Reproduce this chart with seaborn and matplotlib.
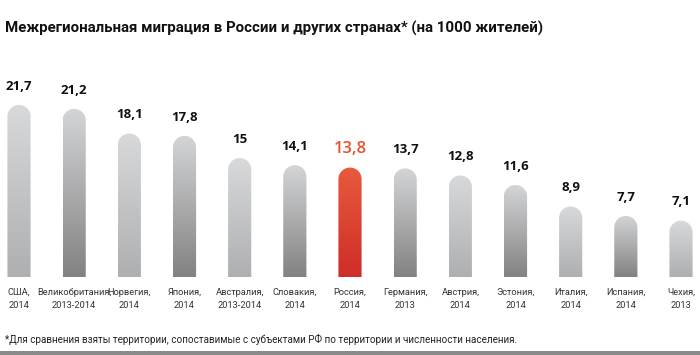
import numpy as np
import pandas as pd
import seaborn as sns
import matplotlib.pyplot as plt
from matplotlib.path import Path
from matplotlib.patches import PathPatch

# Data
countries = ['США', 'Великобритания', 'Норвегия', 'Япония', 'Австралия', 'Словакия',
             'Россия', 'Германия', 'Австрия', 'Эстония', 'Италия', 'Испания', 'Чехия']
years = ['2014', '2013-2014', '2014', '2014', '2013-2014', '2014',
         '2014', '2013', '2014', '2014', '2014', '2014', '2013']
values = [21.7, 21.2, 18.1, 17.8, 15.0, 14.1, 13.8, 13.7, 12.8, 11.6, 8.9, 7.7, 7.1]
value_labels = ['21,7', '21,2', '18,1', '17,8', '15', '14,1', '13,8', '13,7',
                '12,8', '11,6', '8,9', '7,7', '7,1']
highlight = 'Россия'

df = pd.DataFrame({'country': countries, 'value': values})

sns.set_style('white')
plt.rcParams['font.family'] = ['Open Sans', 'DejaVu Sans']

W, H = 700, 355
fig = plt.figure(figsize=(W / 100, H / 100), dpi=100)
ax = fig.add_axes([0, 78 / H, 1, 217 / H])

sns.barplot(data=df, x='country', y='value', color='#cccccc', width=0.42, ax=ax)

px_per_unit = 7.93
ax.set_ylim(0, 217 / px_per_unit)
ax.set_xlim(-19 / 55.17, 12 + 19 / 55.17)
for s in ax.spines.values():
    s.set_visible(False)
ax.set_yticks([])
ax.set_xlabel('')
ax.set_ylabel('')

# gradient fill with rounded tops, clipped to each seaborn bar
ry = 11.5 / px_per_unit
for i, p in enumerate(ax.patches):
    x0 = p.get_x()
    w = p.get_width()
    h = p.get_height()
    p.set_visible(False)
    rx = w / 2
    xc = x0 + rx
    t = np.linspace(np.pi, 0, 40)
    verts = [(x0, 0), (x0, h - ry)]
    verts += list(zip(xc + rx * np.cos(t), h - ry + ry * np.sin(t)))
    verts += [(x0 + w, 0), (x0, 0)]
    codes = [Path.MOVETO] + [Path.LINETO] * (len(verts) - 2) + [Path.CLOSEPOLY]
    clip = PathPatch(Path(verts, codes), transform=ax.transData, facecolor='none', edgecolor='none')
    ax.add_patch(clip)
    if countries[i] == highlight:
        top, bot = np.array([232, 90, 60]), np.array([206, 46, 40])
    elif i % 2 == 0:
        top, bot = np.array([216, 217, 219]), np.array([174, 175, 177])
    else:
        top, bot = np.array([212, 213, 215]), np.array([130, 130, 130])
    f = np.linspace(0, 1, 256)[:, None]
    grad = (top * (1 - f) + bot * f) / 255.0
    img = ax.imshow(grad[:, None, :], extent=(x0, x0 + w, 0, h), aspect='auto',
                    interpolation='bilinear', zorder=2)
    img.set_clip_path(clip)

    if countries[i] == highlight:
        ax.annotate(value_labels[i], (xc, h), xytext=(0, 13.5), textcoords='offset points',
                    ha='center', va='center', fontsize=12, fontweight='semibold', color='#e8502f')
    else:
        ax.annotate(value_labels[i], (xc, h), xytext=(0, 13.5), textcoords='offset points',
                    ha='center', va='center', fontsize=9.5, fontweight='bold', color='#111111')

ax.set_xticks(range(len(countries)))
ax.set_xticklabels([f'{c},\n{y}' for c, y in zip(countries, years)],
                   fontsize=6.7, color='#333333', linespacing=1.5,
                   family=['Roboto', 'DejaVu Sans'])
ax.tick_params(axis='x', length=0, pad=8)

fig.text(5 / W, 1 - 28 / H, 'Межрегиональная миграция в России и других странах* (на 1000 жителей)',
         fontsize=10.8, fontweight='bold', color='#111111', va='center', ha='left',
         family=['Roboto', 'DejaVu Sans'])
fig.text(5 / W, 1 - 339 / H,
         '*Для сравнения взяты территории, сопоставимые с субъектами РФ по территории и численности населения.',
         fontsize=7.1, color='#222222', va='center', ha='left',
         family=['Roboto', 'DejaVu Sans'])

# bottom gray band
fig.add_artist(plt.Rectangle((0, 0), 1, 4 / H, transform=fig.transFigure,
                             facecolor='#8a8a8a', edgecolor='none'))

fig.savefig('out.png', dpi=100)
